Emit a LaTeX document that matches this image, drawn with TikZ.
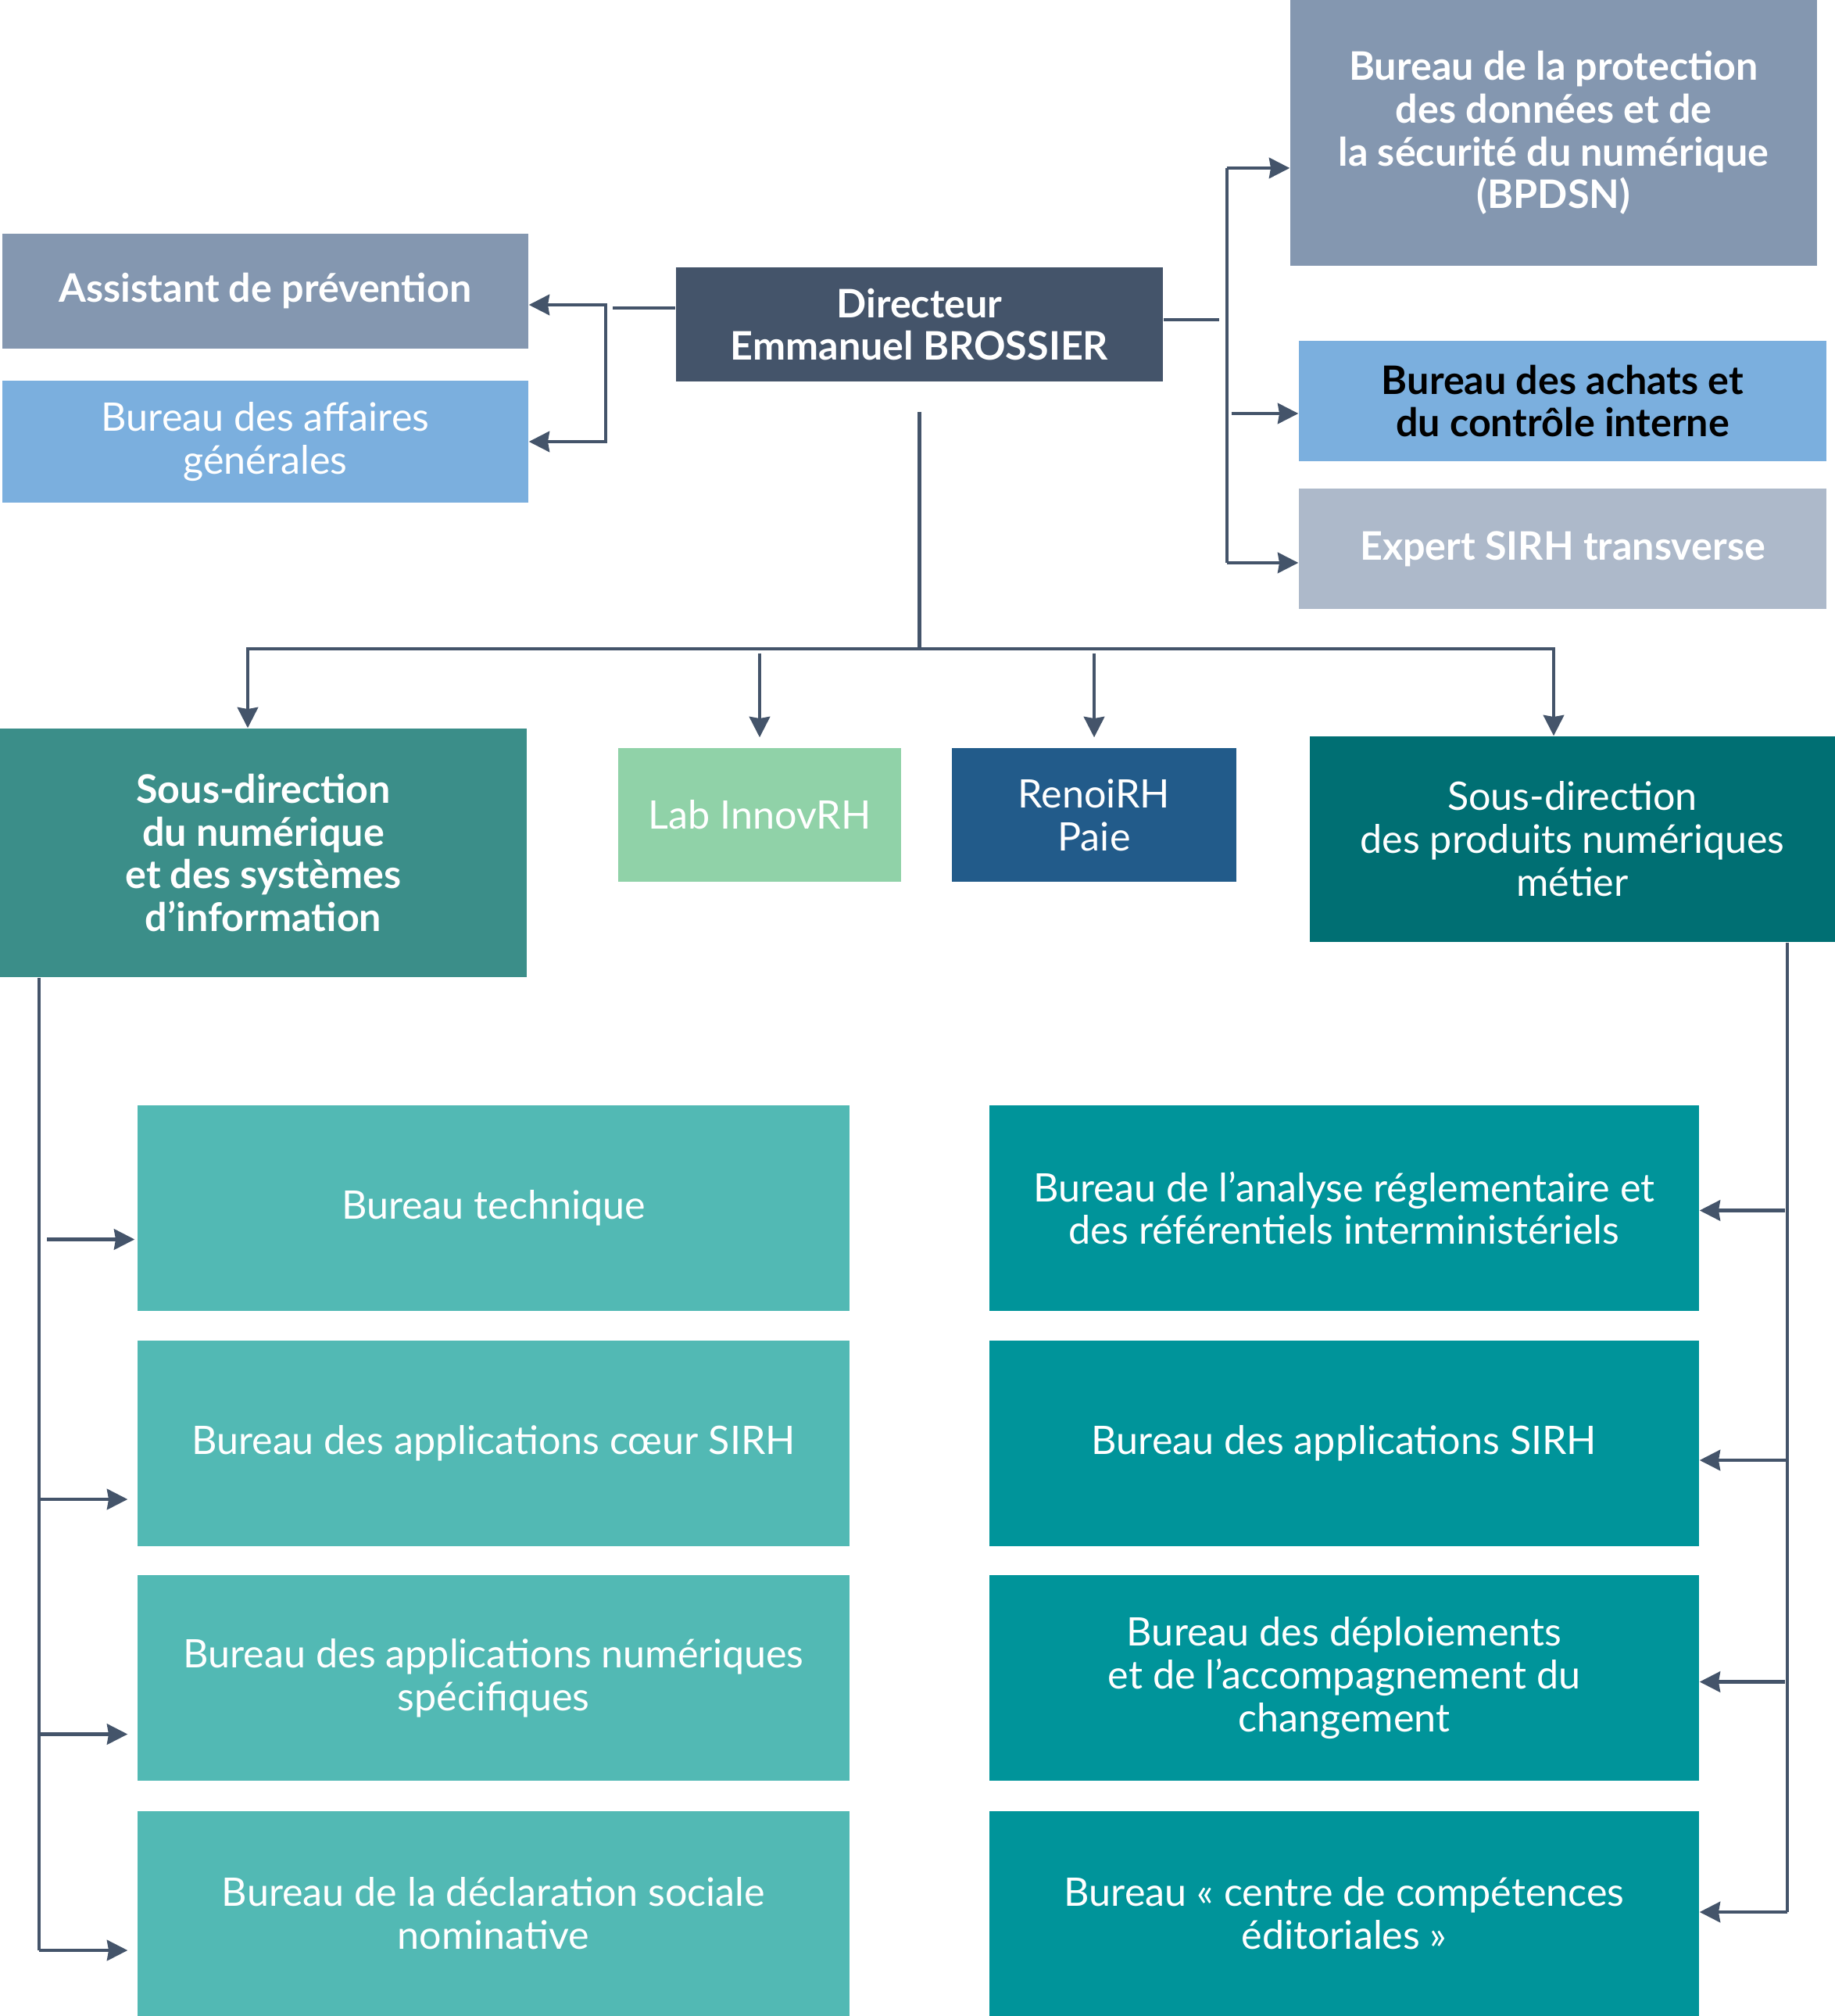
\documentclass[tikz,border=0pt]{standalone}
\usepackage{fontspec}
\setmainfont{Lato}
\usetikzlibrary{arrows.meta}

\definecolor{lignes}{HTML}{44546A}
\definecolor{grisbleu}{HTML}{8497B0}
\definecolor{bleuclair}{HTML}{7BAFDE}
\definecolor{grisclair}{HTML}{ADB9CA}
\definecolor{vertsdn}{HTML}{3B8E89}
\definecolor{vertlab}{HTML}{90D2A8}
\definecolor{bleurenoi}{HTML}{225B8A}
\definecolor{tealsdp}{HTML}{006F73}
\definecolor{tealclair}{HTML}{52B9B4}
\definecolor{tealfonce}{HTML}{00949A}

\begin{document}
\begin{tikzpicture}[
    >={Stealth[length=7.5pt,width=7.5pt,inset=0.6pt]},
    font=\fontsize{14.3}{15.6}\selectfont,
    % Style des blocs : texte blanc centré, sans bordure
    boite/.style={text=white, align=center, inner sep=0pt},
    gras/.style={font=\fontsize{14.3}{15.6}\selectfont\bfseries},
    % Style des flèches et des traits de liaison
    fleche/.style={draw=lignes, line width=1.2pt}
]

% =========================================================
% === PARAMÈTRES DE LA GRILLE (2 colonnes de bureaux) ===
% =========================================================
\def\xColG{6.315}   % Centre X de la colonne gauche
\def\xColD{17.20}   % Centre X de la colonne droite
\def\largG{9.11}    % Largeur des blocs de gauche
\def\largD{9.08}    % Largeur des blocs de droite
\def\hautB{2.63}    % Hauteur des blocs du bas
\def\pasY{3.005}    % Distance verticale entre les lignes
\def\yPrem{-15.455} % Centre Y de la première ligne
% =========================================================

\useasboundingbox (0,0) rectangle (23.48,-25.79);

% --- Direction ---
\node[boite, gras, fill=lignes, minimum width=6.23cm, minimum height=1.46cm]
    (dir) at (11.765,-4.15) {Directeur\\Emmanuel BROSSIER};

% --- Rattachements à gauche ---
\node[boite, gras, fill=grisbleu, minimum width=6.73cm, minimum height=1.47cm]
    (assist) at (3.395,-3.725) {Assistant de prévention};
\node[boite, fill=bleuclair, minimum width=6.73cm, minimum height=1.56cm]
    (affaires) at (3.395,-5.65) {Bureau des affaires\\générales};

% --- Rattachements à droite ---
\node[boite, gras, fill=grisbleu, minimum width=6.74cm, minimum height=3.40cm]
    (bpdsn) at (19.88,-1.70) {Bureau de la protection\\des données et de\\la sécurité du numérique\\(BPDSN)};
\node[boite, gras, text=black, fill=bleuclair, minimum width=6.75cm, minimum height=1.54cm]
    (achats) at (19.995,-5.13) {Bureau des achats et\\du contrôle interne};
\node[boite, gras, fill=grisclair, minimum width=6.75cm, minimum height=1.54cm]
    (expert) at (19.995,-7.02) {Expert SIRH transverse};

% --- Sous-directions et pôles ---
\node[boite, gras, fill=vertsdn, minimum width=6.74cm, minimum height=3.18cm]
    (sdn) at (3.37,-10.91) {Sous-direction\\du numérique\\et des systèmes\\d’information};
\node[boite, fill=vertlab, minimum width=3.62cm, minimum height=1.71cm]
    (lab) at (9.72,-10.425) {Lab InnovRH};
\node[boite, fill=bleurenoi, minimum width=3.64cm, minimum height=1.71cm]
    (renoi) at (14.00,-10.425) {RenoiRH\\Paie};
\node[boite, fill=tealsdp, minimum width=6.72cm, minimum height=2.63cm]
    (sdp) at (20.12,-10.735) {Sous-direction\\des produits numériques\\métier};

% --- COLONNE GAUCHE : bureaux de la sous-direction du numérique ---
\node[boite, fill=tealclair, minimum width=\largG cm, minimum height=\hautB cm]
    (btech) at (\xColG,\yPrem) {Bureau technique};
\node[boite, fill=tealclair, minimum width=\largG cm, minimum height=\hautB cm]
    (bcoeur) at (\xColG,{\yPrem-\pasY}) {Bureau des applications cœur SIRH};
\node[boite, fill=tealclair, minimum width=\largG cm, minimum height=\hautB cm]
    (bspec) at (\xColG,{\yPrem-2*\pasY}) {Bureau des applications numériques\\spécifiques};
\node[boite, fill=tealclair, minimum width=\largG cm, minimum height=\hautB cm]
    (bdsn) at (\xColG,{\yPrem-3*\pasY-0.01}) {Bureau de la déclaration sociale\\nominative};

% --- COLONNE DROITE : bureaux de la sous-direction des produits ---
\node[boite, fill=tealfonce, minimum width=\largD cm, minimum height=\hautB cm]
    (banalyse) at (\xColD,\yPrem) {Bureau de l’analyse réglementaire et\\des référentiels interministériels};
\node[boite, fill=tealfonce, minimum width=\largD cm, minimum height=\hautB cm]
    (bsirh) at (\xColD,{\yPrem-\pasY}) {Bureau des applications SIRH};
\node[boite, fill=tealfonce, minimum width=\largD cm, minimum height=\hautB cm]
    (bdeploi) at (\xColD,{\yPrem-2*\pasY}) {Bureau des déploiements\\et de l’accompagnement du\\changement};
\node[boite, fill=tealfonce, minimum width=\largD cm, minimum height=\hautB cm]
    (bcentre) at (\xColD,{\yPrem-3*\pasY-0.01}) {Bureau « centre de compétences\\éditoriales »};

% --- Points de jonction ---
\coordinate (jg) at ([xshift=-0.89cm,yshift=0.21cm]dir.west);
\coordinate (jd) at ([xshift=0.81cm,yshift=0.06cm]dir.east);
\coordinate (bus) at ([yshift=-3.41cm]dir.south);
\coordinate (ag) at ([yshift=-0.175cm]assist.east);
\coordinate (bp) at ([yshift=-0.45cm]bpdsn.west);
\coordinate (ac) at ([yshift=-0.16cm]achats.west);
\coordinate (ex) at ([yshift=-0.18cm]expert.west);
\coordinate (sn) at ([xshift=-0.20cm]sdn.north);
\coordinate (sp) at ([xshift=-0.24cm]sdp.north);
\coordinate (tg) at ([xshift=0.51cm]sdn.south west);
\coordinate (td) at ([xshift=-0.62cm]sdp.south east);
\coordinate (g1) at ([yshift=-0.40cm]btech.west);
\coordinate (g2) at ([yshift=-0.72cm]bcoeur.west);
\coordinate (g3) at ([yshift=-0.72cm]bspec.west);
\coordinate (g4) at ([yshift=-0.47cm]bdsn.west);
\coordinate (d1) at ([yshift=-0.03cm]banalyse.east);
\coordinate (d2) at ([yshift=-0.22cm]bsirh.east);
\coordinate (d3) at ([yshift=-0.05cm]bdeploi.east);
\coordinate (d4) at ([yshift=0.02cm]bcentre.east);

% --- Liaisons du directeur vers la gauche ---
\draw[fleche] (dir.west |- jg) -- ([xshift=0.09cm]jg);
\draw[->, fleche] (jg) |- (ag);
\draw[->, fleche] (jg) |- (affaires.east);

% --- Liaisons du directeur vers la droite ---
\draw[fleche] (dir.east |- jd) -- ([xshift=-0.1cm]jd);
\draw[->, fleche] (jd |- bp) -- (bp);
\draw[fleche] (jd |- bp) -- (jd |- ex);
\draw[->, fleche, shorten <=0.06cm] (jd |- ac) -- (ac);
\draw[->, fleche] (jd |- ex) -- (ex);

% --- Liaisons vers les sous-directions et pôles ---
\draw[fleche] ([yshift=-0.38cm]dir.south) -- (bus);
\draw[->, fleche] (bus) -| (sn);
\draw[->, fleche] (bus) -| (sp);
\draw[->, fleche, shorten <=0.06cm, shorten >=0.13cm] (bus -| lab.north) -- (lab.north);
\draw[->, fleche, shorten <=0.06cm, shorten >=0.13cm] (bus -| renoi.north) -- (renoi.north);

% --- Colonne gauche (tronc vertical + flèches) ---
\draw[fleche] (tg) -- (tg |- g4);
\draw[->, fleche, shorten <=0.1cm, shorten >=0.03cm] (tg |- g1) -- (g1);
\draw[->, fleche, shorten >=0.12cm] (tg |- g2) -- (g2);
\draw[->, fleche, shorten >=0.12cm] (tg |- g3) -- (g3);
\draw[->, fleche, shorten >=0.12cm] (tg |- g4) -- (g4);

% --- Colonne droite (tronc vertical + flèches) ---
\draw[fleche] (td) -- (td |- d4);
\draw[->, fleche, shorten <=0.03cm] (td |- d1) -- (d1);
\draw[->, fleche] (td |- d2) -- (d2);
\draw[->, fleche, shorten <=0.03cm] (td |- d3) -- (d3);
\draw[->, fleche] (td |- d4) -- (d4);

\end{tikzpicture}
\end{document}
